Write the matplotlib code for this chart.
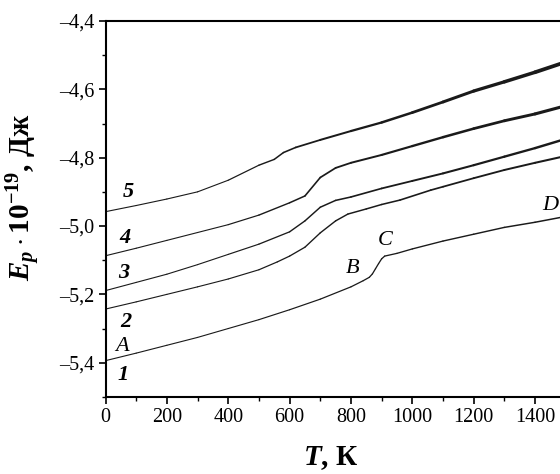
import numpy as np
import matplotlib
matplotlib.use("Agg")
import matplotlib.pyplot as plt
from matplotlib.collections import LineCollection
from matplotlib.ticker import MultipleLocator, FuncFormatter

# ---- data ----
T1 = [0, 100, 200, 300, 400, 500, 600, 700, 800, 840, 860, 870, 880, 890, 900, 910, 950,
      1000, 1100, 1200, 1300, 1400, 1500]
E1 = [-5.394, -5.372, -5.349, -5.326, -5.300, -5.274, -5.245, -5.214, -5.178, -5.160, -5.150,
      -5.140, -5.125, -5.110, -5.096, -5.088, -5.080, -5.067, -5.044, -5.024, -5.004, -4.989, -4.972]

T2 = [0, 100, 200, 300, 400, 500, 560, 600, 650, 700, 750, 790, 850, 900, 960, 1060,
      1100, 1200, 1300, 1400, 1500]
E2 = [-5.243, -5.222, -5.200, -5.178, -5.155, -5.128, -5.105, -5.088, -5.062, -5.020, -4.985,
      -4.965, -4.950, -4.937, -4.924, -4.895, -4.885, -4.860, -4.836, -4.815, -4.795]

T3 = [0, 100, 200, 300, 400, 500, 600, 650, 700, 750, 800, 900, 1000, 1100, 1200, 1300, 1400, 1500]
E3 = [-5.189, -5.165, -5.141, -5.113, -5.083, -5.053, -5.017, -4.985, -4.945, -4.925, -4.915,
      -4.890, -4.868, -4.846, -4.822, -4.797, -4.772, -4.745]

T4 = [0, 100, 200, 300, 400, 500, 600, 650, 700, 750, 800, 900, 1000, 1100, 1200, 1300, 1400, 1500]
E4 = [-5.087, -5.065, -5.042, -5.019, -4.996, -4.968, -4.932, -4.912, -4.858, -4.830, -4.815,
      -4.792, -4.766, -4.740, -4.715, -4.692, -4.672, -4.648]

T5 = [0, 100, 200, 300, 400, 500, 550, 580, 620, 700, 800, 900, 1000, 1100, 1200, 1300, 1400, 1500]
E5 = [-4.958, -4.940, -4.921, -4.900, -4.866, -4.822, -4.805, -4.785, -4.770, -4.748, -4.722,
      -4.697, -4.668, -4.637, -4.605, -4.578, -4.550, -4.520]

curve_labels = ["1", "2", "3", "4", "5"]
label_T = [56, 66, 60, 64, 74]
label_E = [-5.436, -5.281, -5.138, -5.035, -4.900]

point_labels = ["A", "B", "C", "D"]
point_T = [53, 807, 911, 1449]
point_E = [-5.354, -5.123, -5.041, -4.941]

xticks = [0, 200, 400, 600, 800, 1000, 1200, 1400]
yticks = [-5.4, -5.2, -5.0, -4.8, -4.6, -4.4]

# ---- style ----
plt.rcParams["font.family"] = ["Liberation Serif", "DejaVu Serif"]
plt.rcParams["mathtext.fontset"] = "custom"
plt.rcParams["mathtext.rm"] = "Liberation Serif:bold"
plt.rcParams["mathtext.it"] = "Liberation Serif:italic:bold"
plt.rcParams["mathtext.bf"] = "Liberation Serif:bold"

fig = plt.figure(figsize=(5.6, 4.74), dpi=100)
ax = fig.add_axes([0.1884, 0.1627, 0.8766, 0.793])

# noise amplitude grows with T and curve number -> drawn as widening stroke
noise_scale = [0.3, 0.7, 1.0, 1.5, 2.0]
for i, (T, E) in enumerate([(T1, E1), (T2, E2), (T3, E3), (T4, E4), (T5, E5)]):
    pts = np.column_stack([T, E])
    segs = np.stack([pts[:-1], pts[1:]], axis=1)
    mids = (np.array(T[:-1]) + np.array(T[1:])) / 2.0
    widths = 0.8 + noise_scale[i] * np.clip((mids - 400) / 1100.0, 0, None)
    lc = LineCollection(segs, colors="#1a1a1a", linewidths=widths, capstyle="round",
                        joinstyle="round")
    ax.add_collection(lc)

for s, x, y in zip(curve_labels, label_T, label_E):
    ax.text(x, y, s, fontsize=16, style="italic", fontweight="bold", ha="center", va="center")
for s, x, y in zip(point_labels, point_T, point_E):
    ax.text(x, y, s, fontsize=16, style="italic", ha="center", va="center")

ax.set_xlim(0, 1600)
ax.set_ylim(-5.5, -4.4)
ax.set_xticks(xticks)
ax.set_yticks(yticks)
ax.xaxis.set_minor_locator(MultipleLocator(100))
ax.yaxis.set_minor_locator(MultipleLocator(0.1))
ax.yaxis.set_major_formatter(FuncFormatter(lambda v, p: ("–" if v < 0 else "") + f"{abs(v):.1f}".replace(".", ",")))
ax.tick_params(which="major", direction="out", length=5, width=1.2, labelsize=14.5, pad=3)
ax.tick_params(which="minor", direction="out", length=3, width=1.0)
for sp in ax.spines.values():
    sp.set_linewidth(1.5)

fig.text(331 / 560, 1 - 458 / 474, r"$T$, К", fontsize=21, fontweight="bold",
         ha="center", va="center")
fig.text(24 / 560, 1 - 197 / 474, r"$E_p\cdot\mathrm{10^{-19}}$, Дж", fontsize=21,
         fontweight="bold", rotation=90, ha="center", va="center")

fig.savefig("out.png", dpi=100)
